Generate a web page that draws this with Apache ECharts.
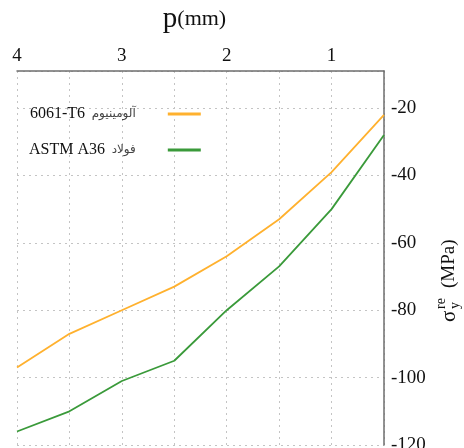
<!DOCTYPE html>
<html>
<head>
<meta charset="utf-8">
<script src="https://cdn.jsdelivr.net/npm/echarts@6/dist/echarts.min.js"></script>
<style>
  html, body { margin: 0; padding: 0; background: #fff; }
  #chart { width: 464px; height: 448px; }
</style>
</head>
<body>
<div id="chart"></div>
<script>
// p (mm) values
var pValues = [4, 3.5, 3, 2.5, 2, 1.5, 1, 0.5];
// residual stress (MPa)
var aluminum = [-97, -87, -80, -73, -64, -53, -39, -22];
var steel = [-116, -110, -101, -95, -80, -67, -50, -28];

var seriesNames = ['6061-T6 آلومینیوم', 'ASTM A36 فولاد'];
var legendLabels = {
  '6061-T6 آلومینیوم': '{l|6061-T6}  {f|آلومینیوم}{sp|}',
  'ASTM A36 فولاد': '{l|ASTM A36}  {f|فولاد}{sp|}'
};
var colors = ['#FFB12E', '#3A9A3A'];

var serif = '"Liberation Serif", "Times New Roman", serif';
var gridLine = { color: '#c4c4c4', width: 1, type: [2, 4] };

function pairs(xs, ys) {
  return xs.map(function(x, i) { return [x, ys[i]]; });
}

var chart = echarts.init(document.getElementById('chart'));

chart.setOption({
  backgroundColor: '#fff',
  animation: false,
  grid: { left: 17, right: 80, top: 71, bottom: 3, outerBoundsMode: 'none' },
  legend: {
    orient: 'vertical',
    align: 'right',
    left: 29,
    top: 106,
    padding: 0,
    icon: 'rect',
    itemWidth: 33,
    itemHeight: 3,
    itemGap: 20,
    data: seriesNames,
    formatter: function(name) { return legendLabels[name]; },
    textStyle: {
      rich: {
        l: { fontFamily: serif, fontSize: 16, color: '#111' },
        f: { fontFamily: '"DejaVu Sans", sans-serif', fontSize: 12, color: '#444' },
        sp: { width: 27 }
      }
    }
  },
  xAxis: {
    type: 'value',
    position: 'top',
    inverse: true,
    min: 0.5,
    max: 4,
    interval: 0.5,
    name: '{p|p}{m|(mm)}',
    nameLocation: 'middle',
    nameGap: 37,
    nameTextStyle: {
      padding: [0, 12, 0, 0],
      rich: {
        p: { fontFamily: serif, fontSize: 29, color: '#111' },
        m: { fontFamily: serif, fontSize: 22, color: '#111' }
      }
    },
    axisLine: { show: true, lineStyle: { color: '#6e6e6e', width: 1.5 } },
    axisTick: { show: false },
    axisLabel: {
      margin: 5,
      fontFamily: serif,
      fontSize: 19,
      color: '#111',
      formatter: function(v) { return v % 1 === 0 ? String(v) : ''; }
    },
    splitLine: { show: true, lineStyle: gridLine }
  },
  yAxis: {
    type: 'value',
    position: 'right',
    min: -120,
    max: -9,
    interval: 20,
    axisLine: { show: true, lineStyle: { color: '#6e6e6e', width: 1.5 } },
    axisTick: { show: false },
    axisLabel: {
      margin: 7,
      fontFamily: serif,
      fontSize: 19,
      color: '#111',
      formatter: function(v) { return v % 20 === 0 ? String(v) : ''; }
    },
    splitLine: { show: true, lineStyle: gridLine }
  },
  series: [
    {
      name: seriesNames[0],
      type: 'line',
      symbol: 'none',
      data: pairs(pValues, aluminum),
      lineStyle: { color: colors[0], width: 1.8 },
      itemStyle: { color: colors[0] }
    },
    {
      name: seriesNames[1],
      type: 'line',
      symbol: 'none',
      data: pairs(pValues, steel),
      lineStyle: { color: colors[1], width: 1.8 },
      itemStyle: { color: colors[1] }
    }
  ],
  graphic: [{
    type: 'group',
    x: 449,
    y: 322,
    rotation: Math.PI / 2,
    children: [
      { type: 'text', x: 0, y: 0, style: { text: 'σ', font: '21px ' + serif, fill: '#111', verticalAlign: 'middle' } },
      { type: 'text', x: 13, y: -8, style: { text: 're', font: '14px ' + serif, fill: '#111', verticalAlign: 'middle' } },
      { type: 'text', x: 13, y: 6, style: { text: 'y', font: '14px ' + serif, fill: '#111', verticalAlign: 'middle' } },
      { type: 'text', x: 34, y: 0, style: { text: '(MPa)', font: '19px ' + serif, fill: '#111', verticalAlign: 'middle' } }
    ]
  }]
});
</script>
</body>
</html>
